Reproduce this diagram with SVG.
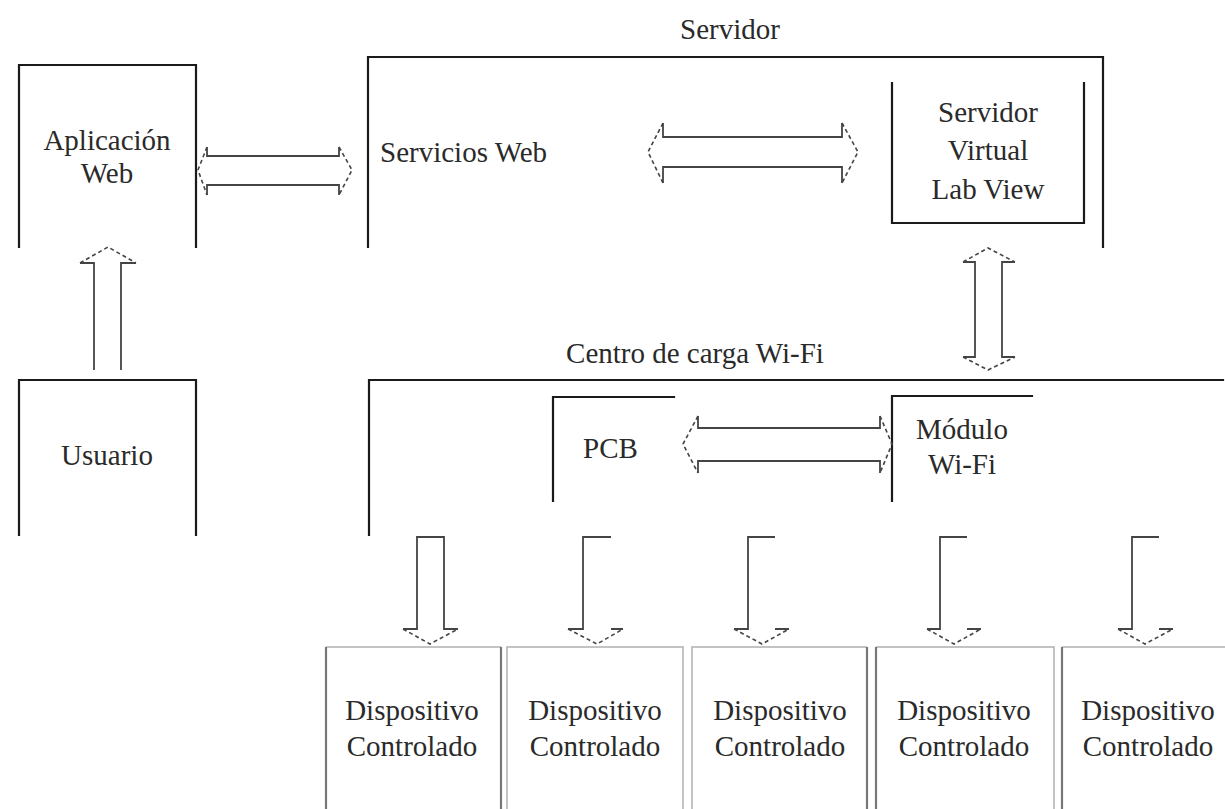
<svg xmlns="http://www.w3.org/2000/svg" width="1225" height="809" viewBox="0 0 1225 809">
<style>
.frame{fill:none;stroke:#1a1a1a;stroke-width:2.2;stroke-linecap:square}
.dev{fill:none;stroke:#b0b0b0;stroke-width:1.5}
.devside{fill:none;stroke:#777;stroke-width:2.2}
.shaft{fill:none;stroke:#444;stroke-width:1.8}
.head{fill:none;stroke:#444;stroke-width:1.6;stroke-dasharray:4 3}
.t{font-family:'Liberation Serif','Times New Roman',serif;font-size:29px;fill:#2a2a2a}
.c{text-anchor:middle}
</style>
<rect width="1225" height="809" fill="#fff"/>

<g id="app-web">
<path class="frame" d="M19,247 V65 H196 V247"/>
<text class="t c" x="107" y="150">Aplicación</text>
<text class="t c" x="107" y="183">Web</text>
</g>

<g id="usuario">
<path class="frame" d="M19,535 V380 H196 V535"/>
<text class="t c" x="107" y="465">Usuario</text>
</g>

<g id="servidor">
<path class="frame" d="M368,247 V57 H1103 V247"/>
<text class="t c" x="730" y="39">Servidor</text>
<text class="t" x="380" y="162">Servicios Web</text>
</g>

<g id="labview">
<path class="frame" d="M892,83 V223 H1084 V83"/>
<text class="t c" x="988" y="122">Servidor</text>
<text class="t c" x="988" y="160">Virtual</text>
<text class="t c" x="988" y="199">Lab View</text>
</g>

<g id="centro">
<path class="frame" d="M369,535 V380 H1223"/>
<text class="t c" x="695" y="363">Centro de carga Wi-Fi</text>
</g>

<g id="pcb">
<path class="frame" d="M553,501 V397 H674"/>
<text class="t" x="583" y="458">PCB</text>
</g>

<g id="modulo">
<path class="frame" d="M892,501 V396 H1032"/>
<text class="t c" x="962" y="439">Módulo</text>
<text class="t c" x="962" y="474">Wi-Fi</text>
</g>

<g id="dev1">
<path class="dev" d="M326,647 H501"/>
<path class="devside" d="M326,647 V809 M501,647 V809"/>
<text class="t c" x="412" y="720">Dispositivo</text>
<text class="t c" x="412" y="756">Controlado</text>
</g>
<g id="dev2">
<path class="dev" d="M507,809 V647 H683 V809"/>
<text class="t c" x="595" y="720">Dispositivo</text>
<text class="t c" x="595" y="756">Controlado</text>
</g>
<g id="dev3">
<path class="dev" d="M692,809 V647 H867"/>
<path class="devside" d="M867,647 V809"/>
<text class="t c" x="780" y="720">Dispositivo</text>
<text class="t c" x="780" y="756">Controlado</text>
</g>
<g id="dev4">
<path class="dev" d="M876,647 H1054 V809"/>
<path class="devside" d="M876,647 V809"/>
<text class="t c" x="964" y="720">Dispositivo</text>
<text class="t c" x="964" y="756">Controlado</text>
</g>
<g id="dev5">
<path class="dev" d="M1062,647 H1225"/>
<path class="devside" d="M1062,647 V809"/>
<text class="t c" x="1148" y="720">Dispositivo</text>
<text class="t c" x="1148" y="756">Controlado</text>
</g>

<g id="connectors">
<path class="shaft" d="M207,147 V156 H339 V147 M207,195 V185 H339 V195"/>
<path class="head" d="M207,147 L198,170 L207,195 M339,147 L352,170 L339,195"/>
<path class="shaft" d="M663,123 V137 H842 V123 M663,183 V167 H842 V183"/>
<path class="head" d="M663,123 L648,152 L663,183 M842,123 L858,152 L842,183"/>
<path class="shaft" d="M963,262 H975 V357 H963 M1015,262 H1002 V357 H1015"/>
<path class="head" d="M963,262 L988,248 L1015,262 M963,357 L988,370 L1015,357"/>
<path class="shaft" d="M698,416 V428 H880 V416 M698,473 V461 H880 V473"/>
<path class="head" d="M698,416 L683,444 L698,473 M880,416 L892,444 L880,473"/>
<path class="shaft" d="M94,370 V263 H80 M121,370 V263 H136"/>
<path class="head" d="M80,263 L108,247 L136,263"/>
<path class="shaft" d="M403,629 H417 V537 H444 V629 H458"/>
<path class="head" d="M403,629 L430,644 L458,629"/>
<path class="shaft" d="M568,629 H583 V537 H611 M611,629 H623"/>
<path class="head" d="M568,629 L597,644 L623,629"/>
<path class="shaft" d="M734,629 H748 V537 H775 M775,629 H789"/>
<path class="head" d="M734,629 L762,644 L789,629"/>
<path class="shaft" d="M927,629 H940 V537 H967 M967,629 H981"/>
<path class="head" d="M927,629 L954,644 L981,629"/>
<path class="shaft" d="M1118,629 H1132 V537 H1159 M1159,629 H1173"/>
<path class="head" d="M1118,629 L1145,644 L1173,629"/>
</g>
</svg>
